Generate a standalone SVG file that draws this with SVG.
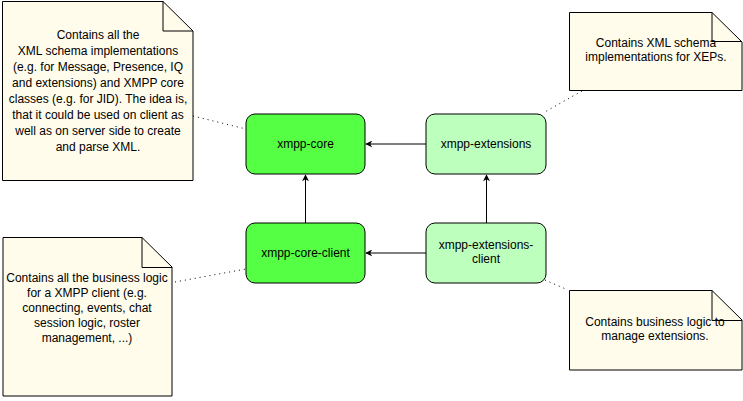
<svg xmlns="http://www.w3.org/2000/svg" width="743" height="401" viewBox="0 0 743 401">
<defs>
<style>
text{font-family:"Liberation Sans",Arial,Helvetica,sans-serif;font-size:12px;fill:#000;text-anchor:middle}
.note{fill:#FFFCEC;stroke:#000;stroke-width:1}
.fold{fill:none;stroke:#000;stroke-width:1}
.core{fill:#55FF44;stroke:#000;stroke-width:1}
.ext{fill:#BDFFBD;stroke:#000;stroke-width:1}
.edge{fill:none;stroke:#000;stroke-width:1}
.dot{fill:none;stroke:#000;stroke-width:1;stroke-dasharray:1 4}
</style>
<marker id="arr" viewBox="0 0 10 10" refX="9" refY="5" markerWidth="7" markerHeight="7" orient="auto" markerUnits="userSpaceOnUse">
<path d="M0,0 L10,5 L0,10 L3,5 Z" fill="#000"/>
</marker>
</defs>
<g id="connectors">
<line class="edge" x1="426" y1="144" x2="366" y2="144" marker-end="url(#arr)"/>
<line class="edge" x1="426" y1="253" x2="366" y2="253" marker-end="url(#arr)"/>
<line class="edge" x1="305.5" y1="223" x2="305.5" y2="175" marker-end="url(#arr)"/>
<line class="edge" x1="486.5" y1="223" x2="486.5" y2="175" marker-end="url(#arr)"/>
<line class="dot" x1="193" y1="116" x2="246" y2="129"/>
<line class="dot" x1="582" y1="91" x2="543" y2="113"/>
<line class="dot" x1="175" y1="282" x2="246" y2="269"/>
<line class="dot" x1="545" y1="280" x2="568" y2="290"/>
</g>
<g id="xmpp-core">
<rect class="core" x="246" y="114" width="119" height="60" rx="9"/>
<text x="305.5" y="148">xmpp-core</text>
</g>
<g id="xmpp-extensions">
<rect class="ext" x="426" y="114" width="120" height="60" rx="9"/>
<text x="486" y="148">xmpp-extensions</text>
</g>
<g id="xmpp-core-client">
<rect class="core" x="246" y="223" width="119" height="60" rx="9"/>
<text x="305.5" y="257">xmpp-core-client</text>
</g>
<g id="xmpp-extensions-client">
<rect class="ext" x="426" y="223" width="120" height="60" rx="9"/>
<text x="486" y="249">xmpp-extensions-</text>
<text x="486" y="263">client</text>
</g>
<g id="note-core">
<path class="note" d="M2.5,1.5 H163 L193,31 V180.5 H2.5 Z"/>
<path class="fold" d="M163,1.5 V31 H193"/>
<text x="98" y="39">Contains all the</text>
<text x="98" y="55">XML schema implementations</text>
<text x="98" y="71">(e.g. for Message, Presence, IQ</text>
<text x="98" y="87">and extensions) and XMPP core</text>
<text x="98" y="103">classes (e.g. for JID). The idea is,</text>
<text x="98" y="119">that it could be used on client as</text>
<text x="98" y="135">well as on server side to create</text>
<text x="98" y="151">and parse XML.</text>
</g>
<g id="note-extensions">
<path class="note" d="M569.5,12.5 H712 L742,42 V90.5 H569.5 Z"/>
<path class="fold" d="M712,12.5 V41.5 H742"/>
<text x="656" y="47">Contains XML schema</text>
<text x="656" y="61">implementations for XEPs.</text>
</g>
<g id="note-core-client">
<path class="note" d="M3,237.5 H142 L172,267 V396 H3 Z"/>
<path class="fold" d="M142,237.5 V267.5 H172"/>
<text x="87" y="282">Contains all the business logic</text>
<text x="87" y="297">for a XMPP client (e.g.</text>
<text x="87" y="312">connecting, events, chat</text>
<text x="87" y="327">session logic, roster</text>
<text x="87" y="342">management, ...)</text>
</g>
<g id="note-extensions-client">
<path class="note" d="M569.5,290.5 H712 L742,320 V370 H569.5 Z"/>
<path class="fold" d="M712,290.5 V320.5 H742"/>
<text x="655" y="326">Contains business logic to</text>
<text x="655" y="340">manage extensions.</text>
</g>
</svg>
